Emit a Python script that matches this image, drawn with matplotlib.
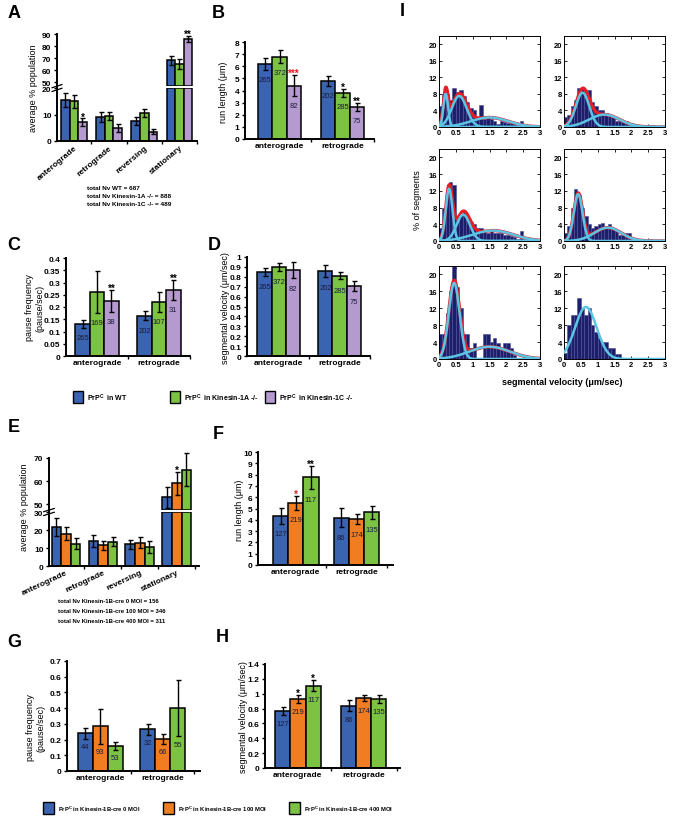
import numpy as np
from matplotlib import pyplot as plt
from matplotlib.patches import Rectangle
from matplotlib.ticker import FuncFormatter

plt.rcParams['font.family'] = ['Liberation Sans', 'DejaVu Sans']
plt.rcParams['mathtext.fontset'] = 'custom'
plt.rcParams['mathtext.rm'] = 'Liberation Sans'
plt.rcParams['mathtext.bf'] = 'Liberation Sans:bold'

W, H = 674, 828

BLUE = '#3a63b0'
GREEN = '#7cc243'
PURPLE = '#b59ad0'
ORANGE = '#f07d21'
NAVY = '#1d1f6b'
CYAN = '#5bc5e3'
RED = '#e41e26'

groups4 = ['anterograde', 'retrograde', 'reversing', 'stationary']
groups2 = ['anterograde', 'retrograde']

# A: % population per motility class (WT, Kinesin-1A -/-, Kinesin-1C -/-)
a_wt = [15.5, 9.0, 7.5, 68.0]
a_wt_err = [2.5, 1.8, 1.5, 4.0]
a_1a = [15.0, 9.5, 10.5, 65.0]
a_1a_err = [2.5, 1.5, 1.5, 4.0]
a_1c = [7.0, 5.0, 3.5, 86.0]
a_1c_err = [1.5, 1.5, 1.0, 2.5]
a_1c_stars = ['*', '', '', '**']
a_totals = ['total Nv WT = 687', 'total Nv Kinesin-1A -/- = 888', 'total Nv Kinesin-1C -/- = 489']

# B: run length (um)
b_wt = [6.2, 4.8]
b_wt_err = [0.5, 0.4]
b_1a = [6.8, 3.8]
b_1a_err = [0.5, 0.3]
b_1c = [4.4, 2.65]
b_1c_err = [0.85, 0.35]
b_n = [[265, 202], [372, 285], [82, 75]]
b_stars = [['', ''], ['', '*'], ['***', '**']]
b_star_colors = [['k', 'k'], ['k', 'k'], [RED, 'k']]

# C: pause frequency (pause/sec)
c_wt = [0.13, 0.165]
c_wt_err = [0.015, 0.02]
c_1a = [0.26, 0.22]
c_1a_err = [0.085, 0.04]
c_1c = [0.225, 0.27]
c_1c_err = [0.045, 0.04]
c_n = [[265, 202], [169, 107], [38, 31]]
c_stars = [['', ''], ['', ''], ['**', '**']]

# D: segmental velocity (um/sec)
d_wt = [0.85, 0.86]
d_wt_err = [0.04, 0.06]
d_1a = [0.90, 0.81]
d_1a_err = [0.04, 0.035]
d_1c = [0.87, 0.71]
d_1c_err = [0.08, 0.05]
d_n = [[265, 202], [372, 285], [82, 75]]

# E: % population, Kinesin-1B-cre 0 / 100 / 400 MOI
e_0 = [21.5, 14.0, 12.0, 53.0]
e_0_err = [5.0, 3.5, 2.5, 4.5]
e_100 = [18.0, 11.5, 13.0, 59.0]
e_100_err = [3.5, 2.5, 3.0, 5.0]
e_400 = [12.5, 13.5, 10.5, 65.0]
e_400_err = [3.0, 2.5, 3.5, 7.0]
e_100_stars = ['', '', '', '*']
e_totals = ['total Nv Kinesin-1B-cre 0 MOI = 156', 'total Nv Kinesin-1B-cre 100 MOI = 346',
            'total Nv Kinesin-1B-cre 400 MOI = 311']

# F: run length (um)
f_0 = [4.35, 4.2]
f_0_err = [0.7, 0.85]
f_100 = [5.5, 4.05]
f_100_err = [0.6, 0.45]
f_400 = [7.75, 4.65]
f_400_err = [1.05, 0.6]
f_n = [[127, 86], [219, 174], [117, 135]]
f_stars = [['', ''], ['*', ''], ['**', '']]
f_star_colors = [['k', 'k'], [RED, 'k'], ['k', 'k']]

# G: pause frequency (pause/sec)
g_0 = [0.24, 0.265]
g_0_err = [0.035, 0.035]
g_100 = [0.285, 0.205]
g_100_err = [0.11, 0.03]
g_400 = [0.16, 0.40]
g_400_err = [0.025, 0.18]
g_n = [[44, 32], [93, 66], [53, 55]]

# H: segmental velocity (um/sec)
h_0 = [0.77, 0.84]
h_0_err = [0.05, 0.07]
h_100 = [0.93, 0.94]
h_100_err = [0.05, 0.04]
h_400 = [1.11, 0.93]
h_400_err = [0.07, 0.05]
h_n = [[127, 86], [219, 174], [117, 135]]
h_stars = [['', ''], ['*', ''], ['*', '']]

# I: segmental velocity histograms (% of segments, 0.1 um/sec bins from 0 to 3)
i_wt_ant = [5, 8, 8, 6.5, 9.5, 8.5, 9, 7.5, 6, 4.5, 4, 2.5, 5.3, 2, 2.2,
            2, 1.5, 0.8, 1.5, 1.2, 1, 1, 0.8, 0.5, 1.5, 0.5, 0.3, 0, 0.4, 0]
i_wt_ret = [2.5, 3, 5, 6.5, 9.5, 9.5, 9, 9, 6, 5, 4, 4, 3.5, 3, 2.5,
            1.5, 1.5, 1.2, 1.5, 0.5, 0.5, 0.5, 0, 0, 0, 0.5, 0.5, 0, 0, 0]
i_1a_ant = [3, 8, 12, 14, 13.5, 5, 6.5, 7, 6, 4.5, 4, 3, 3, 2.5, 2,
            2.5, 2, 2, 2, 1.5, 1.5, 1.2, 1, 0.5, 2.3, 0.5, 0.3, 0, 0, 0]
i_1a_ret = [2, 3.5, 8, 12.5, 11, 8, 6, 4, 3, 3.5, 4, 4.2, 3, 4, 3,
            2.5, 1.5, 1.5, 2, 2, 0, 0, 0, 0, 0, 0.5, 0, 0, 0, 0]
i_1c_ant = [6, 6, 11, 16, 24, 17, 12, 6, 6, 2.5, 3.7, 0, 0, 6, 6,
            4, 5, 3.7, 2.5, 3.7, 3.7, 2.5, 1, 0, 0, 0, 0, 0, 0, 0]
i_1c_ret = [1.5, 8, 10.5, 10.5, 14.5, 12, 10.5, 12, 8, 6.5, 5, 4, 4, 2.5, 2.5,
            1.3, 1.3, 0, 0, 0, 0, 0, 0, 0, 0, 0, 0, 0, 0, 0]
# fitted gaussian components: (peak height, mean, sd)
i_wt_ant_fit = [(8.0, 0.2, 0.07), (7.5, 0.6, 0.22), (2.3, 1.5, 0.55)]
i_wt_ret_fit = [(8.3, 0.55, 0.2), (3.0, 1.2, 0.45)]
i_1a_ant_fit = [(12.5, 0.3, 0.1), (6.3, 0.72, 0.2), (2.5, 1.6, 0.6)]
i_1a_ret_fit = [(11.2, 0.42, 0.13), (3.2, 1.3, 0.4)]
i_1c_ant_fit = [(18.0, 0.45, 0.16), (2.9, 1.5, 0.6)]
i_1c_ret_fit = [(12.3, 0.65, 0.32)]
bin_edges = np.round(np.arange(0, 3.0001, 0.1), 2)

fig = plt.figure(figsize=(W / 100, H / 100), dpi=100)


def px_axes(left, top, right, bottom):
    return fig.add_axes([left / W, 1 - bottom / H, (right - left) / W, (bottom - top) / H])


def fmt(v, p):
    return f'{v:g}'


def style(ax, xlim, ylim, yticks, ngroups, labels=None, rot=0, show_bottom=True):
    ax.set_xlim(*xlim)
    ax.set_ylim(*ylim)
    for s in ['top', 'right']:
        ax.spines[s].set_visible(False)
    ax.spines['left'].set_linewidth(1.4)
    ax.spines['bottom'].set_linewidth(1.4)
    ax.set_yticks(yticks)
    ax.yaxis.set_major_formatter(FuncFormatter(fmt))
    ax.tick_params(axis='y', length=2.5, width=1, labelsize=6, pad=1.5)
    for t in ax.get_yticklabels():
        t.set_fontweight('bold')
    if not show_bottom:
        ax.spines['bottom'].set_visible(False)
        ax.set_xticks([])
        return
    ax.set_xticks(np.arange(ngroups))
    ax.set_xticks(np.arange(ngroups) + 0.5, minor=True)
    ax.tick_params(axis='x', which='major', length=0, labelsize=6, pad=2)
    ax.tick_params(axis='x', which='minor', length=2.5, width=1)
    if rot:
        ax.set_xticklabels(labels, rotation=rot, ha='right', rotation_mode='anchor', fontweight='bold')
    else:
        ax.set_xticklabels(labels, fontweight='bold')


def draw_bars(ax, means, errs, colors, width, lo=0.0, hi=np.inf, counts=None, stars=None,
              star_colors=None, drop=0.0):
    k = len(means)
    for i in range(k):
        m = np.asarray(means[i], float)
        e = np.asarray(errs[i], float)
        x = np.arange(len(m)) + (i - (k - 1) / 2) * width
        top = np.minimum(m, hi)
        vis = m > lo
        ax.bar(x[vis], top[vis] - lo, width, bottom=lo, color=colors[i], edgecolor='black',
               linewidth=1.1, zorder=2)
        show = vis & (m < hi)
        if show.any():
            ax.errorbar(x[show], m[show], yerr=e[show], fmt='none', ecolor='black', elinewidth=1.0,
                        capsize=1.8, capthick=1.0, zorder=3, clip_on=False)
        for j in range(len(m)):
            if counts is not None:
                ax.text(x[j], m[j] - e[j] - drop, str(counts[i][j]), ha='center', va='center',
                        fontsize=5.5, color='#1c1c3a', zorder=4)
            if stars is not None and stars[i][j] and show[j]:
                col = star_colors[i][j] if star_colors is not None else 'k'
                ax.annotate(stars[i][j], (x[j], m[j] + e[j]), xytext=(0, 1.5), textcoords='offset points',
                            ha='center', va='center', fontsize=7, fontweight='bold', color=col,
                            annotation_clip=False, zorder=5)


def break_marks(ax, y_frac):
    kw = dict(transform=ax.transAxes, color='k', lw=0.9, clip_on=False)
    for dy in (-0.035, 0.035):
        ax.plot([-0.035, 0.035], [y_frac + dy - 0.03, y_frac + dy + 0.03], **kw)


ov = fig.add_axes([0, 0, 1, 1])
ov.set_xlim(0, W)
ov.set_ylim(H, 0)
ov.axis('off')


def ylabel(x, y, s, size=6.5):
    ov.text(x, y, s, rotation=90, ha='center', va='center', fontsize=size, multialignment='center')


def panel(x, y, s):
    ov.text(x, y, s, ha='center', va='center', fontsize=13, fontweight='bold')


# ---- A ----
colA = [BLUE, GREEN, PURPLE]
a_means = [a_wt, a_1a, a_1c]
a_errs = [a_wt_err, a_1a_err, a_1c_err]
a_star_list = [['', '', '', ''], ['', '', '', ''], a_1c_stars]
axA1 = px_axes(57, 35, 197, 87)
axA2 = px_axes(57, 89, 197, 142)
style(axA1, (-0.48, 3.5), (46.7, 90), [50, 60, 70, 80, 90], 4, show_bottom=False)
style(axA2, (-0.48, 3.5), (0, 20), [0, 10, 20], 4, groups4, rot=40)
draw_bars(axA1, a_means, a_errs, colA, 0.243, lo=46.7, stars=a_star_list)
draw_bars(axA2, a_means, a_errs, colA, 0.243, lo=0, hi=20, stars=a_star_list)
break_marks(axA2, 1.0)
panel(14, 14, 'A')
ylabel(33, 88, 'average % population')
for k, s in enumerate(a_totals):
    ov.text(87, 188 + 8.5 * k, s, fontsize=4.6, fontweight='bold', va='center')

# ---- B ----
axB = px_axes(245, 43, 374, 140)
style(axB, (-0.55, 1.5), (0, 8), range(0, 9), 2, groups2)
draw_bars(axB, [b_wt, b_1a, b_1c], [b_wt_err, b_1a_err, b_1c_err], colA, 0.23,
          counts=b_n, stars=b_stars, star_colors=b_star_colors, drop=0.8)
panel(218, 14, 'B')
ylabel(223, 92, 'run length (μm)')

# ---- C ----
axC = px_axes(66, 259, 190, 357)
style(axC, (-0.5, 1.48), (0, 0.4), np.arange(0, 0.41, 0.05), 2, groups2)
draw_bars(axC, [c_wt, c_1a, c_1c], [c_wt_err, c_1a_err, c_1c_err], colA, 0.232,
          counts=c_n, stars=c_stars, drop=0.04)
panel(14, 246, 'C')
ylabel(35, 308, 'pause frequency\n(pause/sec)')

# ---- D ----
axD = px_axes(247, 258, 370, 357)
style(axD, (-0.52, 1.47), (0, 1), np.arange(0, 1.01, 0.1), 2, groups2)
draw_bars(axD, [d_wt, d_1a, d_1c], [d_wt_err, d_1a_err, d_1c_err], colA, 0.232,
          counts=d_n, drop=0.11)
panel(214, 246, 'D')
ylabel(225, 308, 'segmental velocity (μm/sec)')

# ---- legend 1 ----
leg1 = ['PrP$^{\\mathbf{C}}$  in WT', 'PrP$^{\\mathbf{C}}$  in Kinesin-1A -/-', 'PrP$^{\\mathbf{C}}$  in Kinesin-1C -/-']
for x0, c, s in zip([73, 170, 265], colA, leg1):
    ov.add_patch(Rectangle((x0, 392), 10, 12, facecolor=c, edgecolor='k', lw=1.0))
    ov.text(x0 + 14, 398, s, fontsize=5, fontweight='bold', va='center')

# ---- E ----
colE = [BLUE, ORANGE, GREEN]
e_means = [e_0, e_100, e_400]
e_errs = [e_0_err, e_100_err, e_400_err]
e_star_list = [['', '', '', ''], e_100_stars, ['', '', '', '']]
axE1 = px_axes(49, 459, 199, 511)
axE2 = px_axes(49, 513, 199, 567)
style(axE1, (-0.46, 3.6), (47.5, 70), [50, 60, 70], 4, show_bottom=False)
style(axE2, (-0.46, 3.6), (0, 30), [0, 10, 20, 30], 4, groups4, rot=25)
draw_bars(axE1, e_means, e_errs, colE, 0.26, lo=47.5, stars=e_star_list)
draw_bars(axE2, e_means, e_errs, colE, 0.26, lo=0, hi=30, stars=e_star_list)
break_marks(axE2, 1.0)
panel(14, 428, 'E')
ylabel(25, 507, 'average % population')
for k, s in enumerate(e_totals):
    ov.text(58, 602 + 10 * k, s, fontsize=4.3, fontweight='bold', va='center')

# ---- F ----
axF = px_axes(258, 453, 393, 566)
style(axF, (-0.62, 1.6), (0, 10), range(0, 11), 2, groups2)
draw_bars(axF, [f_0, f_100, f_400], [f_0_err, f_100_err, f_400_err], colE, 0.25,
          counts=f_n, stars=f_stars, star_colors=f_star_colors, drop=0.9)
panel(218, 435, 'F')
ylabel(240, 510, 'run length (μm)')

# ---- G ----
axG = px_axes(67, 662, 200, 772)
style(axG, (-0.53, 1.6), (0, 0.7), np.arange(0, 0.71, 0.1), 2, groups2)
draw_bars(axG, [g_0, g_100, g_400], [g_0_err, g_100_err, g_400_err], colE, 0.24,
          counts=g_n, drop=0.05)
panel(14, 643, 'G')
ylabel(36, 728, 'pause frequency\n(pause/sec)')

# ---- H ----
axH = px_axes(265, 665, 400, 769)
style(axH, (-0.5, 1.55), (0, 1.4), np.arange(0, 1.41, 0.2), 2, groups2)
draw_bars(axH, [h_0, h_100, h_400], [h_0_err, h_100_err, h_400_err], colE, 0.23,
          counts=h_n, stars=h_stars, drop=0.12)
panel(222, 638, 'H')
ylabel(243, 717, 'segmental velocity (μm/sec)')

# ---- legend 2 ----
leg2 = ['PrP$^{\\mathbf{C}}$ in Kinesin-1B-cre 0 MOI', 'PrP$^{\\mathbf{C}}$ in Kinesin-1B-cre 100 MOI',
        'PrP$^{\\mathbf{C}}$ in Kinesin-1B-cre 400 MOI']
for x0, c, s in zip([43, 163, 289], colE, leg2):
    ov.add_patch(Rectangle((x0, 803), 11, 12, facecolor=c, edgecolor='k', lw=1.0))
    ov.text(x0 + 15, 809, s, fontsize=4.2, fontweight='bold', va='center')

# ---- I ----
hists = [(i_wt_ant, i_wt_ant_fit, ['WT     anterograde', 'Ns = 265'], [502, 508]),
         (i_wt_ret, i_wt_ret_fit, ['WT   retrograde', 'Ns = 202'], [632, 640]),
         (i_1a_ant, i_1a_ant_fit, ['Kinesin-1A -/-', 'anterograde', 'Ns = 372'], [497, 513, 512]),
         (i_1a_ret, i_1a_ret_fit, ['Kinesin-1A -/-', 'retrograde', 'Ns = 285'], [629, 641, 641]),
         (i_1c_ant, i_1c_ant_fit, ['Kinesin-1C -/-', 'anterograde', 'Ns = 82'], [497, 511, 510]),
         (i_1c_ret, i_1c_ret_fit, ['Kinesin-1C -/-', 'retrograde', 'Ns = 75'], [630, 643, 639])]
cols = [(439, 540), (564, 665)]
rows = [(37, 128), (150, 242), (267, 360)]
xs = np.linspace(0, 3, 400)
for idx, (hv, fit, lines, lx) in enumerate(hists):
    l, r = cols[idx % 2]
    t, b = rows[idx // 2]
    ax = px_axes(l, t, r, b)
    ax.bar(bin_edges[:-1], hv, 0.1, align='edge', color=NAVY, edgecolor='#4b4f96', linewidth=0.4, zorder=2)
    comps = [a * np.exp(-(xs - mu) ** 2 / (2 * sd ** 2)) for a, mu, sd in fit]
    if len(comps) > 1:
        ax.plot(xs, np.sum(comps, axis=0), color=RED, lw=2.4, zorder=3)
    for cy in comps:
        ax.plot(xs, cy, color=CYAN, lw=1.8, zorder=4)
    ax.set_xlim(0, 3)
    ax.set_ylim(0, 22)
    ax.set_xticks(np.arange(0, 3.01, 0.5))
    ax.set_yticks(range(0, 21, 4))
    ax.xaxis.set_major_formatter(FuncFormatter(fmt))
    ax.tick_params(direction='in', top=True, right=True, length=2, width=0.6, labelsize=5.5, pad=1.5)
    for t_ in ax.get_xticklabels() + ax.get_yticklabels():
        t_.set_fontweight('bold')
    for s in ax.spines.values():
        s.set_linewidth(0.7)
    step = 8.5 if len(lines) == 3 else 9.5
    for k, (s, x0) in enumerate(zip(lines, lx)):
        ov.text(x0, t + 11 + step * k, s, ha='center', va='center', fontsize=5.3, fontweight='bold')

panel(402, 12, 'I')
ylabel(418, 200, '% of segments', size=6.5)
ov.text(562, 383, 'segmental velocity (μm/sec)', ha='center', va='center', fontsize=6.5, fontweight='bold')

fig.savefig('out.png', dpi=100)
